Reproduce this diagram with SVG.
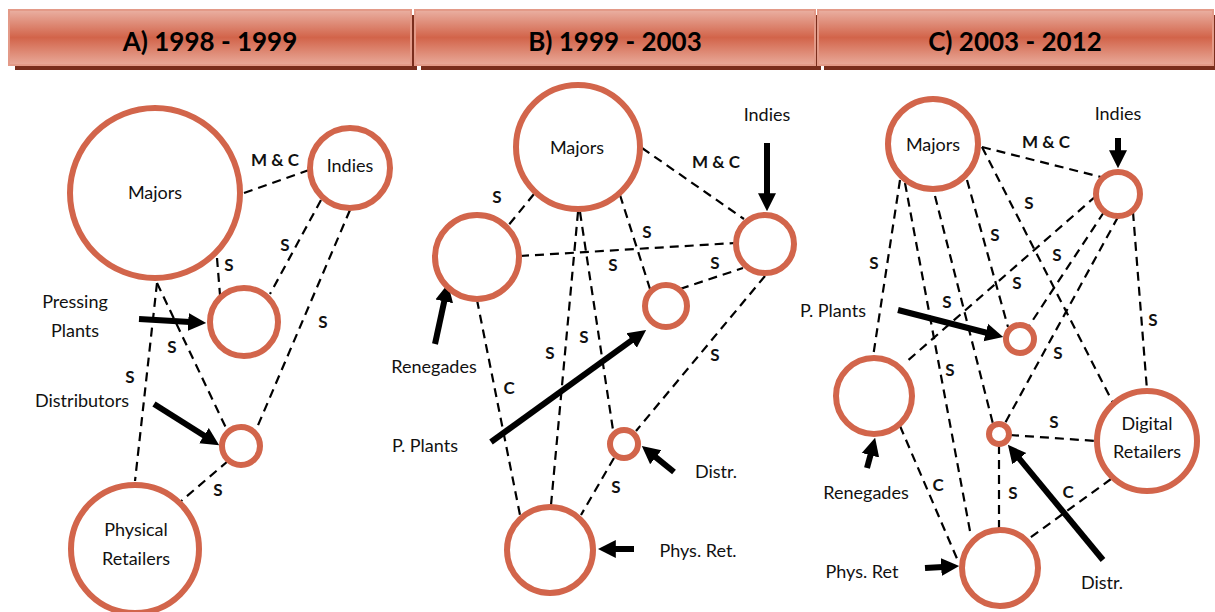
<svg xmlns="http://www.w3.org/2000/svg" width="1215" height="612" viewBox="0 0 1215 612">
<defs>
<linearGradient id="hg" x1="0" y1="0" x2="0" y2="1">
<stop offset="0" stop-color="#eab0a2"/>
<stop offset="0.5" stop-color="#d2644a"/>
<stop offset="1" stop-color="#e9aa9a"/>
</linearGradient>
<marker id="ah" viewBox="0 0 10 10" refX="1" refY="5" markerWidth="3" markerHeight="3.3" orient="auto" markerUnits="strokeWidth">
<path d="M0,0 L10,5 L0,10 z" fill="#000"/>
</marker>
<style>
.hdr{fill:url(#hg);stroke:#e39a88;stroke-width:2}
.shd{fill:#7a2e1d}
.ht{font-family:Lato,"Open Sans",sans-serif;font-weight:bold;font-size:26px;fill:#000;text-anchor:middle}
.n{fill:#fff;stroke:#d2654b;stroke-width:6}
.t{font-family:Lato,"Open Sans",sans-serif;font-size:18px;fill:#111;text-anchor:middle}
.l{font-family:Lato,"Open Sans",sans-serif;font-size:17px;font-weight:bold;fill:#111;text-anchor:middle}
.d{stroke:#000;stroke-width:2.2;stroke-dasharray:9 6;fill:none}
.ar{stroke:#000;stroke-width:6;fill:none;marker-end:url(#ah)}
</style>
</defs>
<rect width="1215" height="612" fill="#fff"/>
<g id="headers">
<rect class="shd" x="15" y="15" width="402" height="55"/>
<rect class="hdr" x="9" y="10" width="402" height="55"/>
<text class="ht" x="210" y="51">A) 1998 - 1999</text>
<rect class="shd" x="421" y="15" width="400" height="55"/>
<rect class="hdr" x="415" y="10" width="400" height="55"/>
<text class="ht" x="615" y="51">B) 1999 - 2003</text>
<rect class="shd" x="824" y="15" width="395" height="55"/>
<rect class="hdr" x="818" y="10" width="395" height="55"/>
<text class="ht" x="1015" y="51">C) 2003 - 2012</text>
</g>
<g id="connectors">
<line class="d" x1="244" y1="193" x2="309" y2="170"/>
<line class="d" x1="217" y1="258" x2="220" y2="295"/>
<line class="d" x1="321" y1="200" x2="270" y2="294"/>
<line class="d" x1="350" y1="210" x2="256" y2="430"/>
<line class="d" x1="157" y1="283" x2="135" y2="481"/>
<line class="d" x1="157" y1="283" x2="227" y2="430"/>
<line class="d" x1="228" y1="461" x2="180" y2="502"/>
<line class="d" x1="642" y1="148" x2="744" y2="219"/>
<line class="d" x1="534" y1="194" x2="507" y2="227"/>
<line class="d" x1="520" y1="256" x2="735" y2="243"/>
<line class="d" x1="620" y1="195" x2="650" y2="289"/>
<line class="d" x1="680" y1="289" x2="743" y2="268"/>
<line class="d" x1="578" y1="212" x2="551" y2="505"/>
<line class="d" x1="580" y1="212" x2="613" y2="430"/>
<line class="d" x1="477" y1="300" x2="520" y2="515"/>
<line class="d" x1="765" y1="276" x2="636" y2="431"/>
<line class="d" x1="614" y1="458" x2="581" y2="515"/>
<line class="d" x1="982" y1="147" x2="1101" y2="177"/>
<line class="d" x1="900" y1="180" x2="873" y2="357"/>
<line class="d" x1="905" y1="183" x2="970" y2="531"/>
<line class="d" x1="935" y1="196" x2="993" y2="424"/>
<line class="d" x1="967" y1="180" x2="1008" y2="327"/>
<line class="d" x1="982" y1="147" x2="1113" y2="403"/>
<line class="d" x1="1096" y1="196" x2="905" y2="363"/>
<line class="d" x1="1104" y1="212" x2="1029" y2="326"/>
<line class="d" x1="1118" y1="217" x2="1004" y2="425"/>
<line class="d" x1="1133" y1="212" x2="1147" y2="390"/>
<line class="d" x1="1010" y1="435" x2="1096" y2="441"/>
<line class="d" x1="999" y1="445" x2="999" y2="529"/>
<line class="d" x1="900" y1="426" x2="958" y2="561"/>
<line class="d" x1="1111" y1="479" x2="1027" y2="540"/>
</g>
<g id="arrows">
<line class="ar" x1="139" y1="319" x2="190" y2="322"/>
<line class="ar" x1="154" y1="404" x2="205.5" y2="436.5"/>
<line class="ar" x1="767" y1="143" x2="767" y2="195"/>
<line class="ar" x1="435" y1="344" x2="444.6" y2="299.6"/>
<line class="ar" x1="491" y1="442" x2="633" y2="339.4"/>
<line class="ar" x1="674" y1="472" x2="654.4" y2="456.1"/>
<line class="ar" x1="634" y1="549" x2="614" y2="549"/>
<line class="ar" x1="1118" y1="138" x2="1118" y2="152"/>
<line class="ar" x1="898" y1="310" x2="987.5" y2="333"/>
<line class="ar" x1="867" y1="468" x2="870.9" y2="453.5"/>
<line class="ar" x1="925" y1="568" x2="943" y2="567"/>
<line class="ar" x1="1103" y1="560" x2="1018.2" y2="457.3"/>
</g>
<g id="labels">
<text class="l" x="275" y="166">M &amp; C</text>
<text class="l" x="229" y="271">S</text>
<text class="l" x="285" y="251">S</text>
<text class="l" x="323" y="328">S</text>
<text class="l" x="172" y="353">S</text>
<text class="l" x="130" y="383">S</text>
<text class="l" x="218" y="496">S</text>
<text class="l" x="716" y="168">M &amp; C</text>
<text class="l" x="497" y="203">S</text>
<text class="l" x="613" y="271">S</text>
<text class="l" x="647" y="238">S</text>
<text class="l" x="715" y="269">S</text>
<text class="l" x="550" y="359">S</text>
<text class="l" x="584" y="343">S</text>
<text class="l" x="509" y="394">C</text>
<text class="l" x="715" y="361">S</text>
<text class="l" x="616" y="493">S</text>
<text class="l" x="1046" y="148">M &amp; C</text>
<text class="l" x="1029" y="209">S</text>
<text class="l" x="874" y="269">S</text>
<text class="l" x="950" y="376">S</text>
<text class="l" x="947" y="308">S</text>
<text class="l" x="995" y="241">S</text>
<text class="l" x="1017" y="289">S</text>
<text class="l" x="1057" y="261">S</text>
<text class="l" x="1058" y="359">S</text>
<text class="l" x="1153" y="326">S</text>
<text class="l" x="1054" y="428">S</text>
<text class="l" x="1013" y="499">S</text>
<text class="l" x="938" y="491">C</text>
<text class="l" x="1068" y="498">C</text>
<text class="t" x="75" y="308">Pressing</text>
<text class="t" x="75" y="337">Plants</text>
<text class="t" x="82" y="407">Distributors</text>
<text class="t" x="767" y="121">Indies</text>
<text class="t" x="434" y="373">Renegades</text>
<text class="t" x="425" y="452">P. Plants</text>
<text class="t" x="716" y="478">Distr.</text>
<text class="t" x="698" y="557">Phys. Ret.</text>
<text class="t" x="1118" y="120">Indies</text>
<text class="t" x="833" y="317">P. Plants</text>
<text class="t" x="866" y="499">Renegades</text>
<text class="t" x="862" y="578">Phys. Ret</text>
<text class="t" x="1102" y="589">Distr.</text>
</g>
<g id="a-majors"><circle class="n" cx="155" cy="193" r="85"/><text class="t" x="155" y="199">Majors</text></g>
<g id="a-indies"><circle class="n" cx="350" cy="168" r="40"/><text class="t" x="350" y="172">Indies</text></g>
<g id="a-pressing"><circle class="n" cx="244" cy="322" r="34"/></g>
<g id="a-distributors"><circle class="n" cx="241" cy="446" r="19"/></g>
<g id="a-physical"><circle class="n" cx="135" cy="549" r="64"/><text class="t" x="136" y="536">Physical</text><text class="t" x="136" y="565">Retailers</text></g>
<g id="b-majors"><circle class="n" cx="578" cy="147" r="62"/><text class="t" x="577" y="154">Majors</text></g>
<g id="b-renegades"><circle class="n" cx="477" cy="257" r="42"/></g>
<g id="b-indies"><circle class="n" cx="765" cy="244" r="29"/></g>
<g id="b-pplants"><circle class="n" cx="666" cy="306" r="21"/></g>
<g id="b-distr"><circle class="n" cx="624" cy="444" r="14"/></g>
<g id="b-physret"><circle class="n" cx="550" cy="550" r="43"/></g>
<g id="c-majors"><circle class="n" cx="933" cy="144" r="45"/><text class="t" x="933" y="151">Majors</text></g>
<g id="c-indies"><circle class="n" cx="1118" cy="194" r="22"/></g>
<g id="c-pplants"><circle class="n" cx="1020" cy="339" r="14"/></g>
<g id="c-renegades"><circle class="n" cx="874" cy="396" r="38"/></g>
<g id="c-distr"><circle class="n" cx="999" cy="434" r="10"/></g>
<g id="c-digital"><circle class="n" cx="1147" cy="441" r="50"/><text class="t" x="1147" y="430">Digital</text><text class="t" x="1147" y="458">Retailers</text></g>
<g id="c-physret"><circle class="n" cx="1000" cy="568" r="38"/></g>
</svg>
